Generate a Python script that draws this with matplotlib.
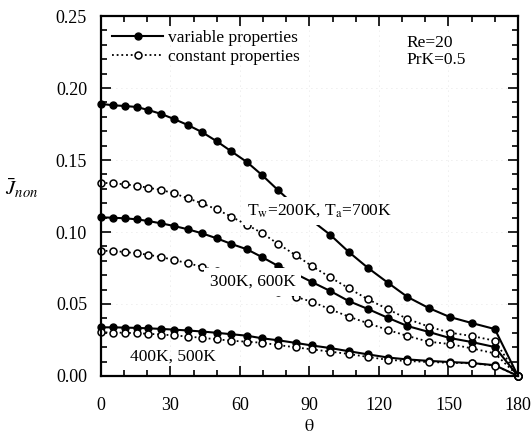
import matplotlib
matplotlib.use("Agg")
import matplotlib.pyplot as plt
from matplotlib.ticker import MultipleLocator

plt.rcParams['font.family'] = 'Liberation Serif'
plt.rcParams['mathtext.fontset'] = 'stix'

# theta grid (deg) - the mesh is a bit finer near 0
theta = [0, 5.2, 10.4, 15.5, 20.5, 26, 31.5, 37.5, 43.6, 50, 56.3, 63, 69.5,
         76.5, 84, 91, 99, 107, 115.3, 124, 132.3, 141.5, 150.5, 160, 170, 180]

# variable properties
var_200 = [0.189, 0.188, 0.1875, 0.1868, 0.1847, 0.182, 0.1785, 0.1743, 0.1694,
           0.163, 0.156, 0.1486, 0.1396, 0.129, 0.118, 0.108, 0.098, 0.0861,
           0.075, 0.0646, 0.0549, 0.0472, 0.041, 0.0368, 0.0326, 0.0]
var_300 = [0.1102, 0.1099, 0.1095, 0.1088, 0.1076, 0.106, 0.1042, 0.1019, 0.0991,
           0.0956, 0.0917, 0.088, 0.0826, 0.0764, 0.071, 0.0653, 0.059, 0.052,
           0.0465, 0.0403, 0.0347, 0.0306, 0.0264, 0.0236, 0.0201, 0.0]
var_400 = [0.0338, 0.0338, 0.0336, 0.0334, 0.0331, 0.0327, 0.0322, 0.0316, 0.0309,
           0.03, 0.029, 0.028, 0.0262, 0.0248, 0.023, 0.0212, 0.0194, 0.0172,
           0.015, 0.0128, 0.0115, 0.0105, 0.0097, 0.009, 0.0075, 0.0]

# constant properties
con_200 = [0.1342, 0.1338, 0.1331, 0.1321, 0.1307, 0.1292, 0.1269, 0.1234, 0.1199,
           0.1157, 0.1106, 0.105, 0.0993, 0.0917, 0.084, 0.0764, 0.0685, 0.0609,
           0.0532, 0.0463, 0.0396, 0.0343, 0.0301, 0.0278, 0.0245, 0.0]
con_300 = [0.087, 0.0868, 0.0861, 0.0852, 0.0842, 0.0826, 0.0806, 0.0783, 0.0759,
           0.073, 0.07, 0.0665, 0.062, 0.0585, 0.055, 0.0516, 0.0463, 0.0412,
           0.0366, 0.0319, 0.0278, 0.0238, 0.0222, 0.0192, 0.0157, 0.0]
con_400 = [0.0303, 0.0302, 0.03, 0.0297, 0.0293, 0.0288, 0.0282, 0.0274, 0.0265,
           0.0255, 0.0245, 0.0238, 0.0231, 0.0215, 0.0199, 0.0185, 0.0169, 0.0153,
           0.0132, 0.0112, 0.0104, 0.0097, 0.0092, 0.0088, 0.0072, 0.0]

fig = plt.figure(figsize=(5.31, 4.41), dpi=100)
ax = fig.add_axes([0.190, 0.1474, 0.7855, 0.8163])

var_kw = dict(color='black', lw=1.5, marker='o', ms=5, mfc='black', mec='black',
              clip_on=False)
con_kw = dict(color='black', lw=1.3, ls=(0, (1, 1.6)), marker='o', ms=5,
              mfc='white', mec='black', mew=1.1, clip_on=False)

ax.plot(theta, var_200, label='variable properties', **var_kw)
ax.plot(theta, var_300, **var_kw)
ax.plot(theta, var_400, **var_kw)
ax.plot(theta, con_200, label='constant properties', **con_kw)
ax.plot(theta, con_300, **con_kw)
ax.plot(theta, con_400, **con_kw)

ax.set_xlim(0, 180)
ax.set_ylim(0, 0.25)
ax.xaxis.set_major_locator(MultipleLocator(30))
ax.xaxis.set_minor_locator(MultipleLocator(10))
ax.yaxis.set_major_locator(MultipleLocator(0.05))
ax.yaxis.set_minor_locator(MultipleLocator(0.01))
ax.yaxis.set_major_formatter(plt.FormatStrFormatter('%.2f'))
ax.tick_params(which='both', direction='in', top=True, right=True, width=1.2)
ax.tick_params(which='major', length=7, labelsize=13)
ax.tick_params(which='minor', length=4)
ax.tick_params(axis='x', which='major', pad=15)
ax.tick_params(axis='y', which='major', pad=10)
for s in ax.spines.values():
    s.set_linewidth(1.6)
    s.set_zorder(3)

ax.grid(True, which='major', color='#dddddd', ls=(0, (1, 5)), lw=0.6)

ax.set_xlabel(r'$\mathrm{\theta}$', fontsize=13, labelpad=3)
ax.set_ylabel(r'$\bar{J}_{non}$', fontsize=15, rotation=0, va='center')
ax.yaxis.set_label_coords(-0.19, 0.52)

box = dict(fc='white', ec='none', pad=4)
ax.text(63.2, 0.1118, r'T$_{\rm w}$=200K, T$_{\rm a}$=700K', fontsize=12.5,
        va='baseline', bbox=box, zorder=5)
ax.text(47, 0.0653, '300K, 600K', fontsize=12.5, va='center', bbox=box, zorder=5)
ax.text(12.5, 0.0132, '400K, 500K', fontsize=12.5, va='center', zorder=5)
ax.text(132, 0.2255, 'Re=20\nPrK=0.5', fontsize=12.5, va='center', linespacing=1.05)

ax.legend(loc='upper left', bbox_to_anchor=(-0.01, 1.005), frameon=False,
          numpoints=1, handlelength=2.9, handletextpad=0.3, labelspacing=0.15,
          fontsize=12.5)

fig.savefig('out.png', dpi=100)
